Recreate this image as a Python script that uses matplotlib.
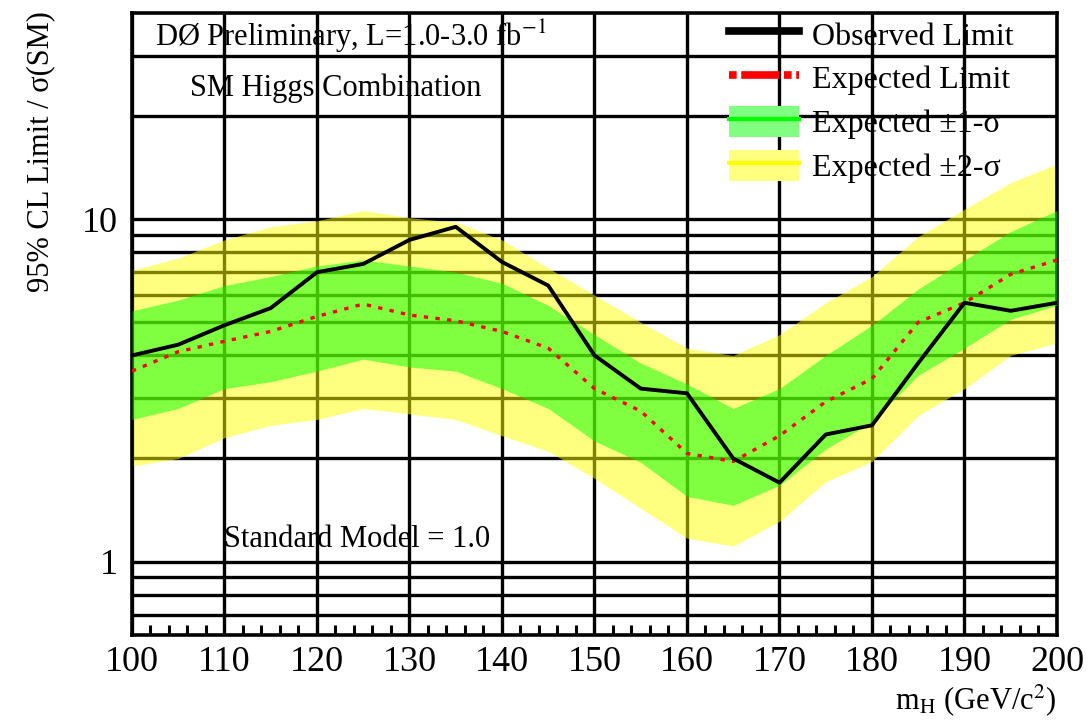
import numpy as np
import matplotlib
matplotlib.use('Agg')
import matplotlib.pyplot as plt
from matplotlib.patches import Patch
from matplotlib.lines import Line2D
from matplotlib.legend_handler import HandlerTuple

plt.rcParams['font.family'] = ['Liberation Serif', 'DejaVu Serif']
plt.rcParams['mathtext.fontset'] = 'stix'

# Higgs mass points (GeV/c^2)
mass = [100, 105, 110, 115, 120, 125, 130, 135, 140, 145, 150,
        155, 160, 165, 170, 175, 180, 185, 190, 195, 200]

# limits / sigma(SM)
observed = [4.0, 4.3, 4.9, 5.5, 7.0, 7.4, 8.7, 9.5, 7.5, 6.4, 4.0,
            3.2, 3.1, 2.0, 1.7, 2.35, 2.5, 3.8, 5.7, 5.4, 5.7]
expected = [3.6, 4.1, 4.4, 4.7, 5.2, 5.65, 5.25, 5.05, 4.7, 4.2, 3.2,
            2.75, 2.07, 1.96, 2.33, 2.93, 3.42, 5.0, 5.7, 6.9, 7.6]
sig1_up = [5.4, 5.8, 6.4, 6.8, 7.3, 7.6, 7.3, 7.0, 6.5, 5.6, 4.6,
           3.8, 3.3, 2.8, 3.2, 4.0, 4.9, 6.25, 7.6, 9.2, 10.6]
sig1_dn = [2.6, 2.8, 3.2, 3.35, 3.6, 3.9, 3.7, 3.6, 3.2, 2.8, 2.25,
           1.95, 1.55, 1.46, 1.67, 2.13, 2.56, 3.5, 4.2, 5.1, 5.6]
sig2_up = [7.1, 7.7, 8.7, 9.5, 9.9, 10.6, 10.1, 9.8, 8.7, 7.2, 6.0,
           5.0, 4.2, 4.0, 4.6, 5.7, 6.8, 8.9, 10.7, 12.8, 14.5]
sig2_dn = [1.9, 2.0, 2.3, 2.5, 2.6, 2.8, 2.7, 2.6, 2.33, 2.1, 1.75,
           1.43, 1.17, 1.11, 1.31, 1.71, 1.96, 2.67, 3.2, 4.0, 4.35]

fig = plt.figure(figsize=(10.88, 7.26), dpi=100)
ax = fig.add_axes([0.1213, 0.1253, 0.8502, 0.8567])

ax.set_yscale('log')
ax.set_xlim(100, 200)
ax.set_ylim(0.61, 40)

# grid drawn under the semi-transparent bands
ax.set_axisbelow(True)
ax.set_xticks(np.arange(100, 201, 10))
ax.set_xticks(np.arange(100, 201, 2), minor=True)
ax.set_yticks([1, 10])
ax.set_yticklabels(['1', '10'])
ax.set_yticks([0.7, 0.8, 0.9] + list(range(2, 10)) + [20, 30], minor=True)
ax.yaxis.set_minor_formatter(plt.NullFormatter())
ax.grid(True, which='major', axis='both', color='black', linewidth=2.4)
ax.grid(True, which='minor', axis='y', color='black', linewidth=2.4)

ax.tick_params(axis='x', which='major', direction='in', length=0, labelsize=26, pad=8)
ax.tick_params(axis='x', which='minor', direction='in', length=7, width=2.2, top=False)
ax.tick_params(axis='y', which='both', length=0, labelsize=26, pad=10)
for sp in ax.spines.values():
    sp.set_linewidth(2.6)

ax.fill_between(mass, sig2_dn, sig2_up, color='#ffff00', alpha=0.5, linewidth=0, zorder=2)
ax.fill_between(mass, sig1_dn, sig1_up, color='#00ff00', alpha=0.5, linewidth=0, zorder=3)
ax.plot(mass, expected, color='red', linewidth=2.4, linestyle=(0, (1.3, 2.2)), zorder=4)
ax.plot(mass, observed, color='black', linewidth=2.8, zorder=5)

# legend proxies
h_obs = Line2D([], [], color='black', linewidth=5.5)
h_exp = Line2D([], [], color='red', linewidth=5.5, linestyle=(0, (1, 0.6, 5, 0.6)))
h_1s = (Patch(facecolor='#80ff80', edgecolor='none'),
        Line2D([], [], color='#00ff00', linewidth=3))
h_2s = (Patch(facecolor='#ffff80', edgecolor='none'),
        Line2D([], [], color='#ffff00', linewidth=3))
leg = ax.legend([h_obs, h_exp, h_1s, h_2s],
                ['Observed Limit', 'Expected Limit',
                 'Expected \u00b11-\u03c3', 'Expected \u00b12-\u03c3'],
                handler_map={tuple: HandlerTuple(ndivide=1, pad=0)},
                loc='upper left', bbox_to_anchor=(0.64, 1.0),
                frameon=False, fontsize=23, handlelength=2.2,
                handleheight=1.15, handletextpad=0.4, labelspacing=0.32,
                borderpad=0.15, borderaxespad=0)
leg.set_zorder(6)

ax.text(0.025, 0.962, 'D\u00d8 Preliminary, L=1.0-3.0 fb$^{-1}$',
        transform=ax.transAxes, fontsize=22, va='center', ha='left')
ax.text(0.063, 0.879, 'SM Higgs Combination',
        transform=ax.transAxes, fontsize=22, va='center', ha='left')
ax.text(0.10, 0.153, 'Standard Model = 1.0',
        transform=ax.transAxes, fontsize=22, va='center', ha='left')

ax.text(1.0, -0.105, 'm$_{\\rm H}$ (GeV/c$^{2}$)', transform=ax.transAxes,
        fontsize=22, ha='right', va='center')
fig.text(0.037, 0.985, '95% CL Limit / \u03c3(SM)', rotation=90,
         fontsize=22, ha='center', va='top')

fig.savefig('out.png', dpi=100)
